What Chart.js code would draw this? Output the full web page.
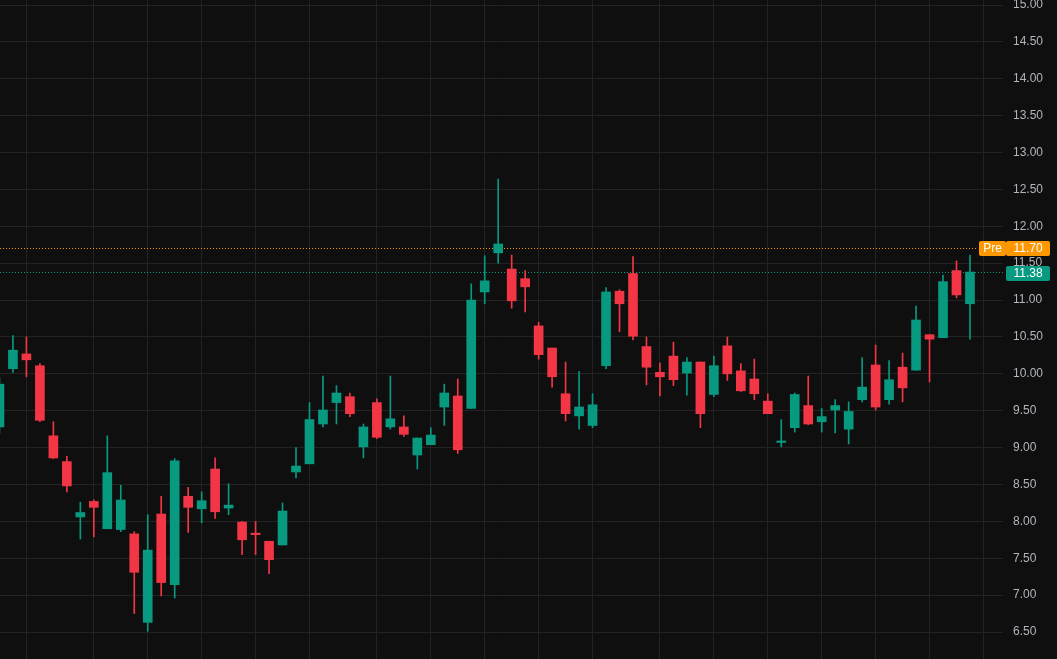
<!DOCTYPE html>
<html>
<head>
<meta charset="utf-8">
<script src="https://cdn.jsdelivr.net/npm/chart.js@4.4.1/dist/chart.umd.min.js"></script>
<style>
  html, body { margin: 0; padding: 0; background: #0f0f0f; }
  #wrap { width: 1057px; height: 659px; position: relative; }
</style>
</head>
<body>
<div id="wrap"><canvas id="grafico"></canvas></div>
<script>
// daily candles, oldest first
const opens = [9.28, 10.07, 10.27, 10.11, 9.16, 8.81, 8.06, 8.27, 7.90, 7.89, 7.83, 6.63, 8.10, 7.14, 8.34, 8.17, 8.71, 8.18, 7.99, 7.84, 7.73, 7.68, 8.67, 8.78, 9.32, 9.61, 9.69, 9.01, 9.61, 9.28, 9.28, 8.90, 9.04, 9.55, 9.70, 9.53, 11.11, 11.64, 11.42, 11.29, 10.65, 10.35, 9.73, 9.43, 9.30, 10.11, 11.12, 11.36, 10.37, 10.02, 10.24, 10.01, 10.16, 9.72, 10.38, 10.04, 9.93, 9.63, 9.07, 9.27, 9.57, 9.35, 9.51, 9.25, 9.65, 10.12, 9.65, 10.09, 10.05, 10.53, 10.49, 11.40, 10.95];
const highs = [9.95, 10.52, 10.50, 10.14, 9.35, 8.88, 8.26, 8.29, 9.16, 8.49, 7.86, 8.09, 8.34, 8.85, 8.46, 8.40, 8.86, 8.51, 8.00, 8.00, 7.73, 8.25, 9.00, 9.61, 9.97, 9.84, 9.74, 9.32, 9.66, 9.97, 9.43, 9.13, 9.27, 9.86, 9.93, 11.22, 11.60, 12.64, 11.61, 11.40, 10.70, 10.35, 10.16, 10.03, 9.73, 11.17, 11.14, 11.59, 10.50, 10.15, 10.43, 10.22, 10.16, 10.24, 10.50, 10.14, 10.20, 9.73, 9.38, 9.74, 9.97, 9.53, 9.65, 9.62, 10.22, 10.39, 10.18, 10.28, 10.92, 10.53, 11.34, 11.53, 11.61];
const lows = [9.20, 10.02, 9.96, 9.35, 8.85, 8.40, 7.76, 7.79, 7.90, 7.86, 6.75, 6.51, 6.99, 6.96, 7.85, 7.98, 8.04, 8.09, 7.55, 7.55, 7.29, 7.68, 8.59, 8.78, 9.28, 9.32, 9.42, 8.86, 9.12, 9.25, 9.15, 8.71, 9.04, 9.30, 8.92, 9.53, 10.95, 11.50, 10.89, 10.84, 10.20, 9.82, 9.36, 9.25, 9.27, 10.07, 10.57, 10.46, 9.85, 9.70, 9.84, 9.71, 9.27, 9.69, 9.91, 9.76, 9.65, 9.46, 9.01, 9.21, 9.31, 9.21, 9.20, 9.05, 9.62, 9.51, 9.59, 9.62, 10.05, 9.89, 10.49, 11.03, 10.47];
const closes = [9.86, 10.32, 10.19, 9.37, 8.86, 8.48, 8.12, 8.19, 8.66, 8.29, 7.31, 7.61, 7.17, 8.82, 8.19, 8.28, 8.13, 8.22, 7.75, 7.82, 7.48, 8.14, 8.75, 9.38, 9.51, 9.74, 9.46, 9.28, 9.14, 9.39, 9.18, 9.13, 9.17, 9.74, 8.97, 11.00, 11.26, 11.76, 10.99, 11.18, 10.26, 9.96, 9.46, 9.55, 9.58, 11.11, 10.95, 10.51, 10.09, 9.96, 9.92, 10.16, 9.46, 10.11, 10.00, 9.77, 9.73, 9.46, 9.09, 9.72, 9.32, 9.42, 9.57, 9.49, 9.82, 9.55, 9.92, 9.81, 10.73, 10.47, 11.25, 11.07, 11.38];

// week separators (candle index) and price ticks
const gradeX = [2, 7, 11, 15, 19, 23, 28, 32, 36, 40, 44, 49, 53, 57, 61, 65, 69, 73];
const precosY = [6.5, 7, 7.5, 8, 8.5, 9, 9.5, 10, 10.5, 11, 11.5, 12, 12.5, 13, 13.5, 14, 14.5, 15];

const precoPre = 11.70;
const precoAtual = 11.38;

const VERDE = "#089981";
const VERMELHO = "#f23645";
const LARANJA = "#ff9800";

const cores = opens.map((o, i) => (closes[i] >= o ? VERDE : VERMELHO));
const pavios = opens.map((o, i) => ({ x: i, y: [lows[i], highs[i]] }));
const corpos = opens.map((o, i) => ({ x: i, y: [o, closes[i]] }));

// dotted price lines + price tags on the axis
const linhasPreco = {
  id: "linhasPreco",
  beforeDatasetsDraw(chart) {
    const { ctx, chartArea, scales } = chart;
    ctx.save();
    ctx.lineWidth = 1;
    ctx.setLineDash([1, 2]);
    let y = Math.round(scales.y.getPixelForValue(precoPre)) + 0.5;
    ctx.strokeStyle = LARANJA;
    ctx.beginPath();
    ctx.moveTo(chartArea.left, y);
    ctx.lineTo(978, y);
    ctx.stroke();
    y = Math.round(scales.y.getPixelForValue(precoAtual)) + 0.5;
    ctx.strokeStyle = VERDE;
    ctx.beginPath();
    ctx.moveTo(chartArea.left, y);
    ctx.lineTo(chartArea.right, y);
    ctx.stroke();
    ctx.restore();
  },
  afterDraw(chart) {
    const { ctx, scales } = chart;
    ctx.save();
    ctx.font = "12px 'Liberation Sans', Arial, sans-serif";
    ctx.textAlign = "center";
    ctx.textBaseline = "middle";
    const etiqueta = (x, w, yc, cor, txt) => {
      ctx.fillStyle = cor;
      ctx.beginPath();
      ctx.roundRect(x, Math.round(yc) - 7, w, 15, 2);
      ctx.fill();
      ctx.fillStyle = "#ffffff";
      ctx.fillText(txt, x + w / 2, Math.round(yc) + 1);
    };
    const yPre = scales.y.getPixelForValue(precoPre);
    etiqueta(979, 27, yPre, LARANJA, "Pre");
    etiqueta(1006, 44, yPre, LARANJA, precoPre.toFixed(2));
    etiqueta(1006, 44, scales.y.getPixelForValue(precoAtual) + 0.5, VERDE, precoAtual.toFixed(2));
    ctx.restore();
  },
};

new Chart(document.getElementById("grafico"), {
  type: "bar",
  data: {
    datasets: [
      {
        label: "pavio",
        data: pavios,
        backgroundColor: cores,
        barThickness: 1,
        grouped: false,
        order: 2,
      },
      {
        label: "corpo",
        data: corpos,
        backgroundColor: cores,
        barThickness: 9,
        minBarLength: 1,
        grouped: false,
        order: 1,
      },
    ],
  },
  options: {
    responsive: true,
    maintainAspectRatio: false,
    animation: false,
    layout: { padding: 0 },
    plugins: { legend: { display: false }, tooltip: { enabled: false } },
    scales: {
      x: {
        type: "linear",
        offset: false,
        min: 0.04,
        max: 74.45,
        afterBuildTicks: (s) => { s.ticks = gradeX.map((v) => ({ value: v })); },
        afterFit: (s) => {
          s.height = 0;
          s.paddingLeft = 0;
          s.paddingRight = 0;
        },
        ticks: { display: false },
        grid: { color: "#232323", drawTicks: false, offset: false },
        border: { display: false },
      },
      y: {
        position: "right",
        min: 6.134,
        max: 15.068,
        afterBuildTicks: (s) => { s.ticks = precosY.map((v) => ({ value: v })); },
        afterFit: (s) => {
          s.width = 54;
          s.paddingTop = 0;
          s.paddingBottom = 0;
        },
        ticks: {
          autoSkip: false,
          padding: 10,
          color: "#b2b5be",
          font: { family: "'Liberation Sans', Arial, sans-serif", size: 12 },
          callback: (v) => Number(v).toFixed(2),
        },
        grid: { color: "#232323", drawTicks: false },
        border: { display: false },
      },
    },
  },
  plugins: [linhasPreco],
});
</script>
</body>
</html>
